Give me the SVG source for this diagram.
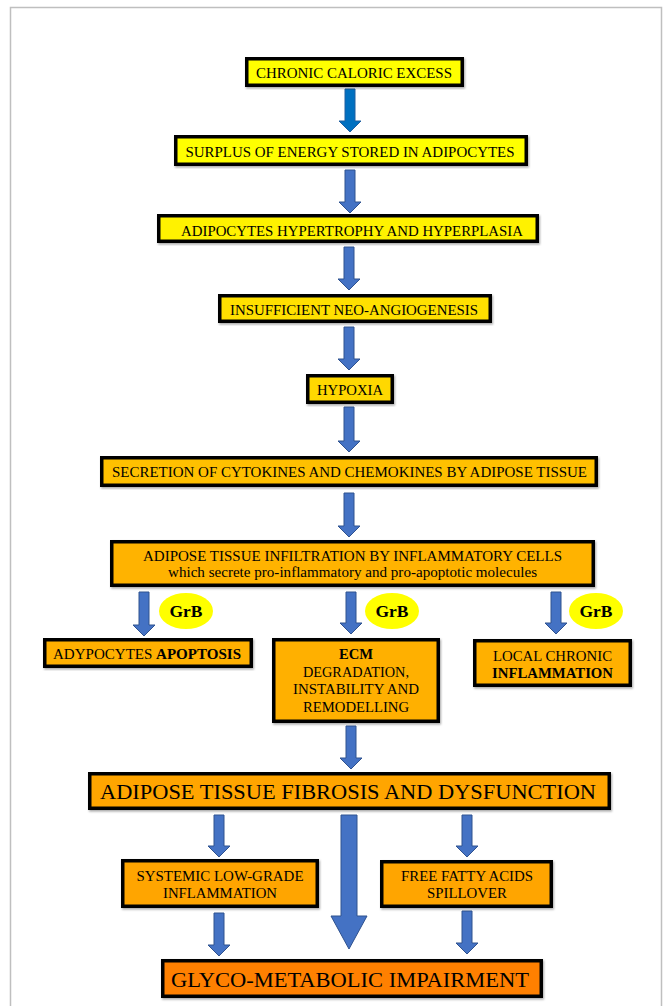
<svg xmlns="http://www.w3.org/2000/svg" width="663" height="1006" viewBox="0 0 663 1006">
<style>
.box{stroke:#000;stroke-width:3.5}
text{font-family:'Liberation Serif','Times New Roman',serif;font-size:15px;fill:#000;text-anchor:middle}
.b{font-weight:bold}
.big{font-size:22px}
.arr{fill:#4472C4;stroke:#2F528F;stroke-width:1}
.grb{fill:#FFFF00}
</style>
<defs>
<filter id="sh" x="-5%" y="-5%" width="110%" height="120%"><feDropShadow dx="1" dy="1.5" stdDeviation="1" flood-color="#000" flood-opacity="0.35"/></filter>
</defs>
<rect x="10.5" y="7.5" width="651" height="1010" fill="#fff" stroke="#BFBFBF" stroke-width="1.5"/>

<g id="connectors">
<polygon points="345,89 355,89 355,121 361,121 350,132 339,121 345,121" fill="#0070C0" stroke="#1F5FA0" stroke-width="1"/>
<polygon class="arr" points="345,170 355,170 355,202 361,202 350,213 339,202 345,202"/>
<polygon class="arr" points="344,247 354,247 354,279 360,279 349,290 338,279 344,279"/>
<polygon class="arr" points="344,327 354,327 354,359 360,359 349,370 338,359 344,359"/>
<polygon class="arr" points="344,407 354,407 354,441 360,441 349,452 338,441 344,441"/>
<polygon class="arr" points="344,493 354,493 354,526 360,526 349,537 338,526 344,526"/>
<polygon class="arr" points="139,592 149,592 149,625 155,625 144,636 133,625 139,625"/>
<polygon class="arr" points="346,592 356,592 356,623 362,623 351,634 340,623 346,623"/>
<polygon class="arr" points="551,592 561,592 561,623 567,623 556,634 545,623 551,623"/>
<polygon class="arr" points="346,726 356,726 356,758 362,758 351,769 340,758 346,758"/>
<polygon class="arr" points="214,815 224,815 224,846 230,846 219,857 208,846 214,846"/>
<polygon class="arr" points="462,815 472,815 472,846 478,846 467,857 456,846 462,846"/>
<polygon class="arr" points="341,815 357,815 357,916 367,916 349,949 331,916 341,916"/>
<polygon class="arr" points="214,913 224,913 224,945 230,945 219,956 208,945 214,945"/>
<polygon class="arr" points="462,911 472,911 472,943 478,943 467,954 456,943 462,943"/>
</g>

<g id="n1"><rect class="box" filter="url(#sh)" x="246.75" y="58.75" width="215.5" height="26.5" fill="#FFFF00"/>
<text x="354" y="78" textLength="196" lengthAdjust="spacingAndGlyphs">CHRONIC CALORIC EXCESS</text></g>

<g id="n2"><rect class="box" filter="url(#sh)" x="175.75" y="136.75" width="350.5" height="27.5" fill="#FFFF00"/>
<text x="350" y="157" textLength="329" lengthAdjust="spacingAndGlyphs">SURPLUS OF ENERGY STORED IN ADIPOCYTES</text></g>

<g id="n3"><rect class="box" filter="url(#sh)" x="158.75" y="215.75" width="378.5" height="25.5" fill="#FFF200"/>
<text x="352" y="236" textLength="342" lengthAdjust="spacingAndGlyphs">ADIPOCYTES HYPERTROPHY AND HYPERPLASIA</text></g>

<g id="n4"><rect class="box" filter="url(#sh)" x="219.75" y="295.75" width="270.5" height="25.5" fill="#FFE000"/>
<text x="354" y="315" textLength="248" lengthAdjust="spacingAndGlyphs">INSUFFICIENT NEO-ANGIOGENESIS</text></g>

<g id="n5"><rect class="box" filter="url(#sh)" x="307.75" y="375.75" width="84.5" height="26.5" fill="#FFD800"/>
<text x="350" y="395" textLength="66" lengthAdjust="spacingAndGlyphs">HYPOXIA</text></g>

<g id="n6"><rect class="box" filter="url(#sh)" x="101.75" y="457.75" width="494.5" height="27.5" fill="#FFC000"/>
<text x="349.5" y="477" textLength="475" lengthAdjust="spacingAndGlyphs">SECRETION OF CYTOKINES AND CHEMOKINES BY ADIPOSE TISSUE</text></g>

<g id="n7"><rect class="box" filter="url(#sh)" x="111.75" y="541.75" width="481.5" height="43.5" fill="#FFB300"/>
<text x="352.5" y="561" textLength="419" lengthAdjust="spacingAndGlyphs">ADIPOSE TISSUE INFILTRATION BY INFLAMMATORY CELLS</text>
<text x="352.5" y="577" textLength="369" lengthAdjust="spacingAndGlyphs">which secrete pro-inflammatory and pro-apoptotic molecules</text></g>

<g id="grb1"><ellipse class="grb" cx="186" cy="611" rx="27" ry="18"/><text class="b" x="186" y="617" style="font-size:17px" textLength="33" lengthAdjust="spacingAndGlyphs">GrB</text></g>
<g id="grb2"><ellipse class="grb" cx="392" cy="611" rx="27" ry="18"/><text class="b" x="392" y="617" style="font-size:17px" textLength="33" lengthAdjust="spacingAndGlyphs">GrB</text></g>
<g id="grb3"><ellipse class="grb" cx="596" cy="611" rx="27" ry="18"/><text class="b" x="596" y="617" style="font-size:17px" textLength="33" lengthAdjust="spacingAndGlyphs">GrB</text></g>

<g id="n8"><rect class="box" filter="url(#sh)" x="44.75" y="639.75" width="206.5" height="26.5" fill="#FFB000"/>
<text x="147" y="659" textLength="188" lengthAdjust="spacingAndGlyphs">ADYPOCYTES <tspan class="b">APOPTOSIS</tspan></text></g>

<g id="n9"><rect class="box" filter="url(#sh)" x="273.75" y="639.75" width="164.5" height="81.5" fill="#FFB000"/>
<text class="b" x="356" y="659" textLength="34" lengthAdjust="spacingAndGlyphs">ECM</text>
<text x="356" y="677" textLength="106" lengthAdjust="spacingAndGlyphs">DEGRADATION,</text>
<text x="356" y="694" textLength="126" lengthAdjust="spacingAndGlyphs">INSTABILITY AND</text>
<text x="356" y="712" textLength="106" lengthAdjust="spacingAndGlyphs">REMODELLING</text></g>

<g id="n10"><rect class="box" filter="url(#sh)" x="474.75" y="640.75" width="155.5" height="44.5" fill="#FFB000"/>
<text x="552.5" y="661" textLength="119" lengthAdjust="spacingAndGlyphs">LOCAL CHRONIC</text>
<text class="b" x="552.5" y="678" textLength="121" lengthAdjust="spacingAndGlyphs">INFLAMMATION</text></g>

<g id="n11"><rect class="box" filter="url(#sh)" x="89.75" y="773.75" width="519.5" height="34.5" fill="#FFA500"/>
<text class="big" x="348" y="799" textLength="496" lengthAdjust="spacingAndGlyphs">ADIPOSE TISSUE FIBROSIS AND DYSFUNCTION</text></g>

<g id="n12"><rect class="box" filter="url(#sh)" x="122.75" y="860.75" width="194.5" height="45.5" fill="#FFA500"/>
<text x="220" y="881" textLength="167" lengthAdjust="spacingAndGlyphs">SYSTEMIC LOW-GRADE</text>
<text x="220" y="898" textLength="114" lengthAdjust="spacingAndGlyphs">INFLAMMATION</text></g>

<g id="n13"><rect class="box" filter="url(#sh)" x="381.75" y="861.75" width="169.5" height="44.5" fill="#FFA500"/>
<text x="467" y="881" textLength="132" lengthAdjust="spacingAndGlyphs">FREE FATTY ACIDS</text>
<text x="467" y="898" textLength="80" lengthAdjust="spacingAndGlyphs">SPILLOVER</text></g>

<g id="n14"><rect class="box" filter="url(#sh)" x="162.75" y="960.75" width="378.5" height="35.5" fill="#FF8000"/>
<text class="big" x="350" y="987" textLength="358" lengthAdjust="spacingAndGlyphs">GLYCO-METABOLIC IMPAIRMENT</text></g>
</svg>
